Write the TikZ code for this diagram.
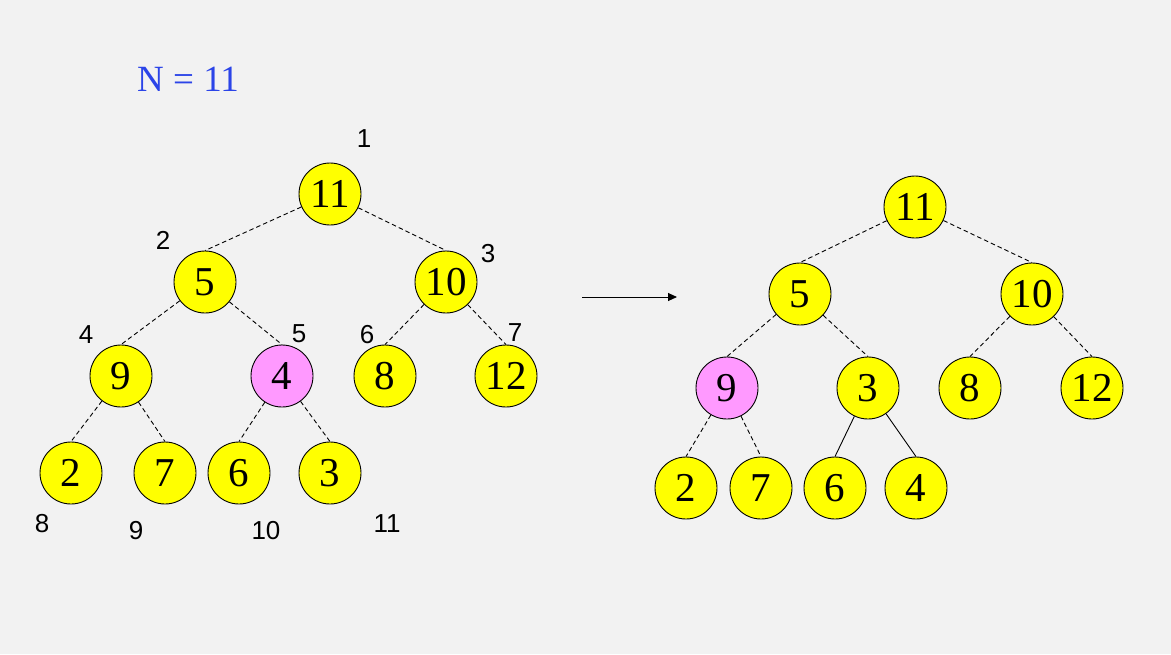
\documentclass[tikz,border=0pt]{standalone}
\usepackage{fontspec}
\setmainfont{Liberation Serif}
\newfontfamily\lblfont{Liberation Sans}
\usetikzlibrary{arrows.meta}
\definecolor{bg}{HTML}{F2F2F2}
\definecolor{heapyellow}{HTML}{FFFF00}
\definecolor{heappink}{HTML}{FF99FF}
\definecolor{titleblue}{HTML}{2B44E8}
\tikzset{
  hnode/.style={circle, draw=black, line width=0.9pt, fill=heapyellow, minimum size=62pt, inner sep=0pt, font=\fontsize{41}{41}\selectfont},
  pinknode/.style={hnode, fill=heappink},
  idx/.style={font=\lblfont\fontsize{26}{26}\selectfont, inner sep=0pt},
  dedge/.style={draw=black, line width=0.9pt, dash pattern=on 4.5pt off 3pt},
  sedge/.style={draw=black, line width=0.9pt},
}
\begin{document}
\begin{tikzpicture}[x=1pt, y=-1pt]
\fill[bg] (0,0) rectangle (1171,654);
\useasboundingbox (0,0) rectangle (1171,654);

\node[anchor=base west, text=titleblue, font=\fontsize{37}{37}\selectfont, inner sep=0pt] (title) at (137,91) {N = 11};

% left tree
\node[hnode] (a1) at (330,194) {11};
\node[hnode] (a2) at (205,282) {5};
\node[hnode] (a3) at (446,282) {10};
\node[hnode] (a4) at (121,376) {9};
\node[pinknode] (a5) at (282,376) {4};
\node[hnode] (a6) at (385,376) {8};
\node[hnode] (a7) at (506,376) {12};
\node[hnode] (a8) at (71,473) {2};
\node[hnode] (a9) at (165,473) {7};
\node[hnode] (a10) at (239,473) {6};
\node[hnode] (a11) at (330,473) {3};

\draw[dedge] (a1) -- (a2.north);
\draw[dedge] (a1) -- (a3.north);
\draw[dedge] (a2) -- (a4.north);
\draw[dedge] (a2) -- (a5.north);
\draw[dedge] (a3) -- (a6.north);
\draw[dedge] (a3) -- (a7.north);
\draw[dedge] (a4) -- (a8.north);
\draw[dedge] (a4) -- (a9.north);
\draw[dedge] (a5) -- (a10.north);
\draw[dedge] (a5) -- (a11.north);

\node[idx] (l1) at (364,139) {1};
\node[idx] (l2) at (163,240) {2};
\node[idx] (l3) at (488,254) {3};
\node[idx] (l4) at (86,335) {4};
\node[idx] (l5) at (299,334) {5};
\node[idx] (l6) at (367,335) {6};
\node[idx] (l7) at (515,333) {7};
\node[idx] (l8) at (42,524) {8};
\node[idx] (l9) at (136,531) {9};
\node[idx] (l10) at (266,531) {10};
\node[idx] (l11) at (387,524) {11};

% arrow
\coordinate (arS) at (582,297);
\coordinate (arE) at (677,297);
\draw[line width=0.9pt, -{Triangle[length=9pt,width=8pt]}] (arS) -- (arE);

% right tree
\node[hnode] (b1) at (915,207) {11};
\node[hnode] (b2) at (800,294) {5};
\node[hnode] (b3) at (1032,294) {10};
\node[pinknode] (b4) at (727,388) {9};
\node[hnode] (b5) at (868,388) {3};
\node[hnode] (b6) at (970,388) {8};
\node[hnode] (b7) at (1092,388) {12};
\node[hnode] (b8) at (686,488) {2};
\node[hnode] (b9) at (761,488) {7};
\node[hnode] (b10) at (835,488) {6};
\node[hnode] (b11) at (916,488) {4};

\draw[dedge] (b1) -- (b2.north);
\draw[dedge] (b1) -- (b3.north);
\draw[dedge] (b2) -- (b4.north);
\draw[dedge] (b2) -- (b5.north);
\draw[dedge] (b3) -- (b6.north);
\draw[dedge] (b3) -- (b7.north);
\draw[dedge] (b4) -- (b8.north);
\draw[dedge] (b4) -- (b9.north);
\draw[sedge] (b5) -- (b10.north);
\draw[sedge] (b5) -- (b11.north);
\end{tikzpicture}
\end{document}
